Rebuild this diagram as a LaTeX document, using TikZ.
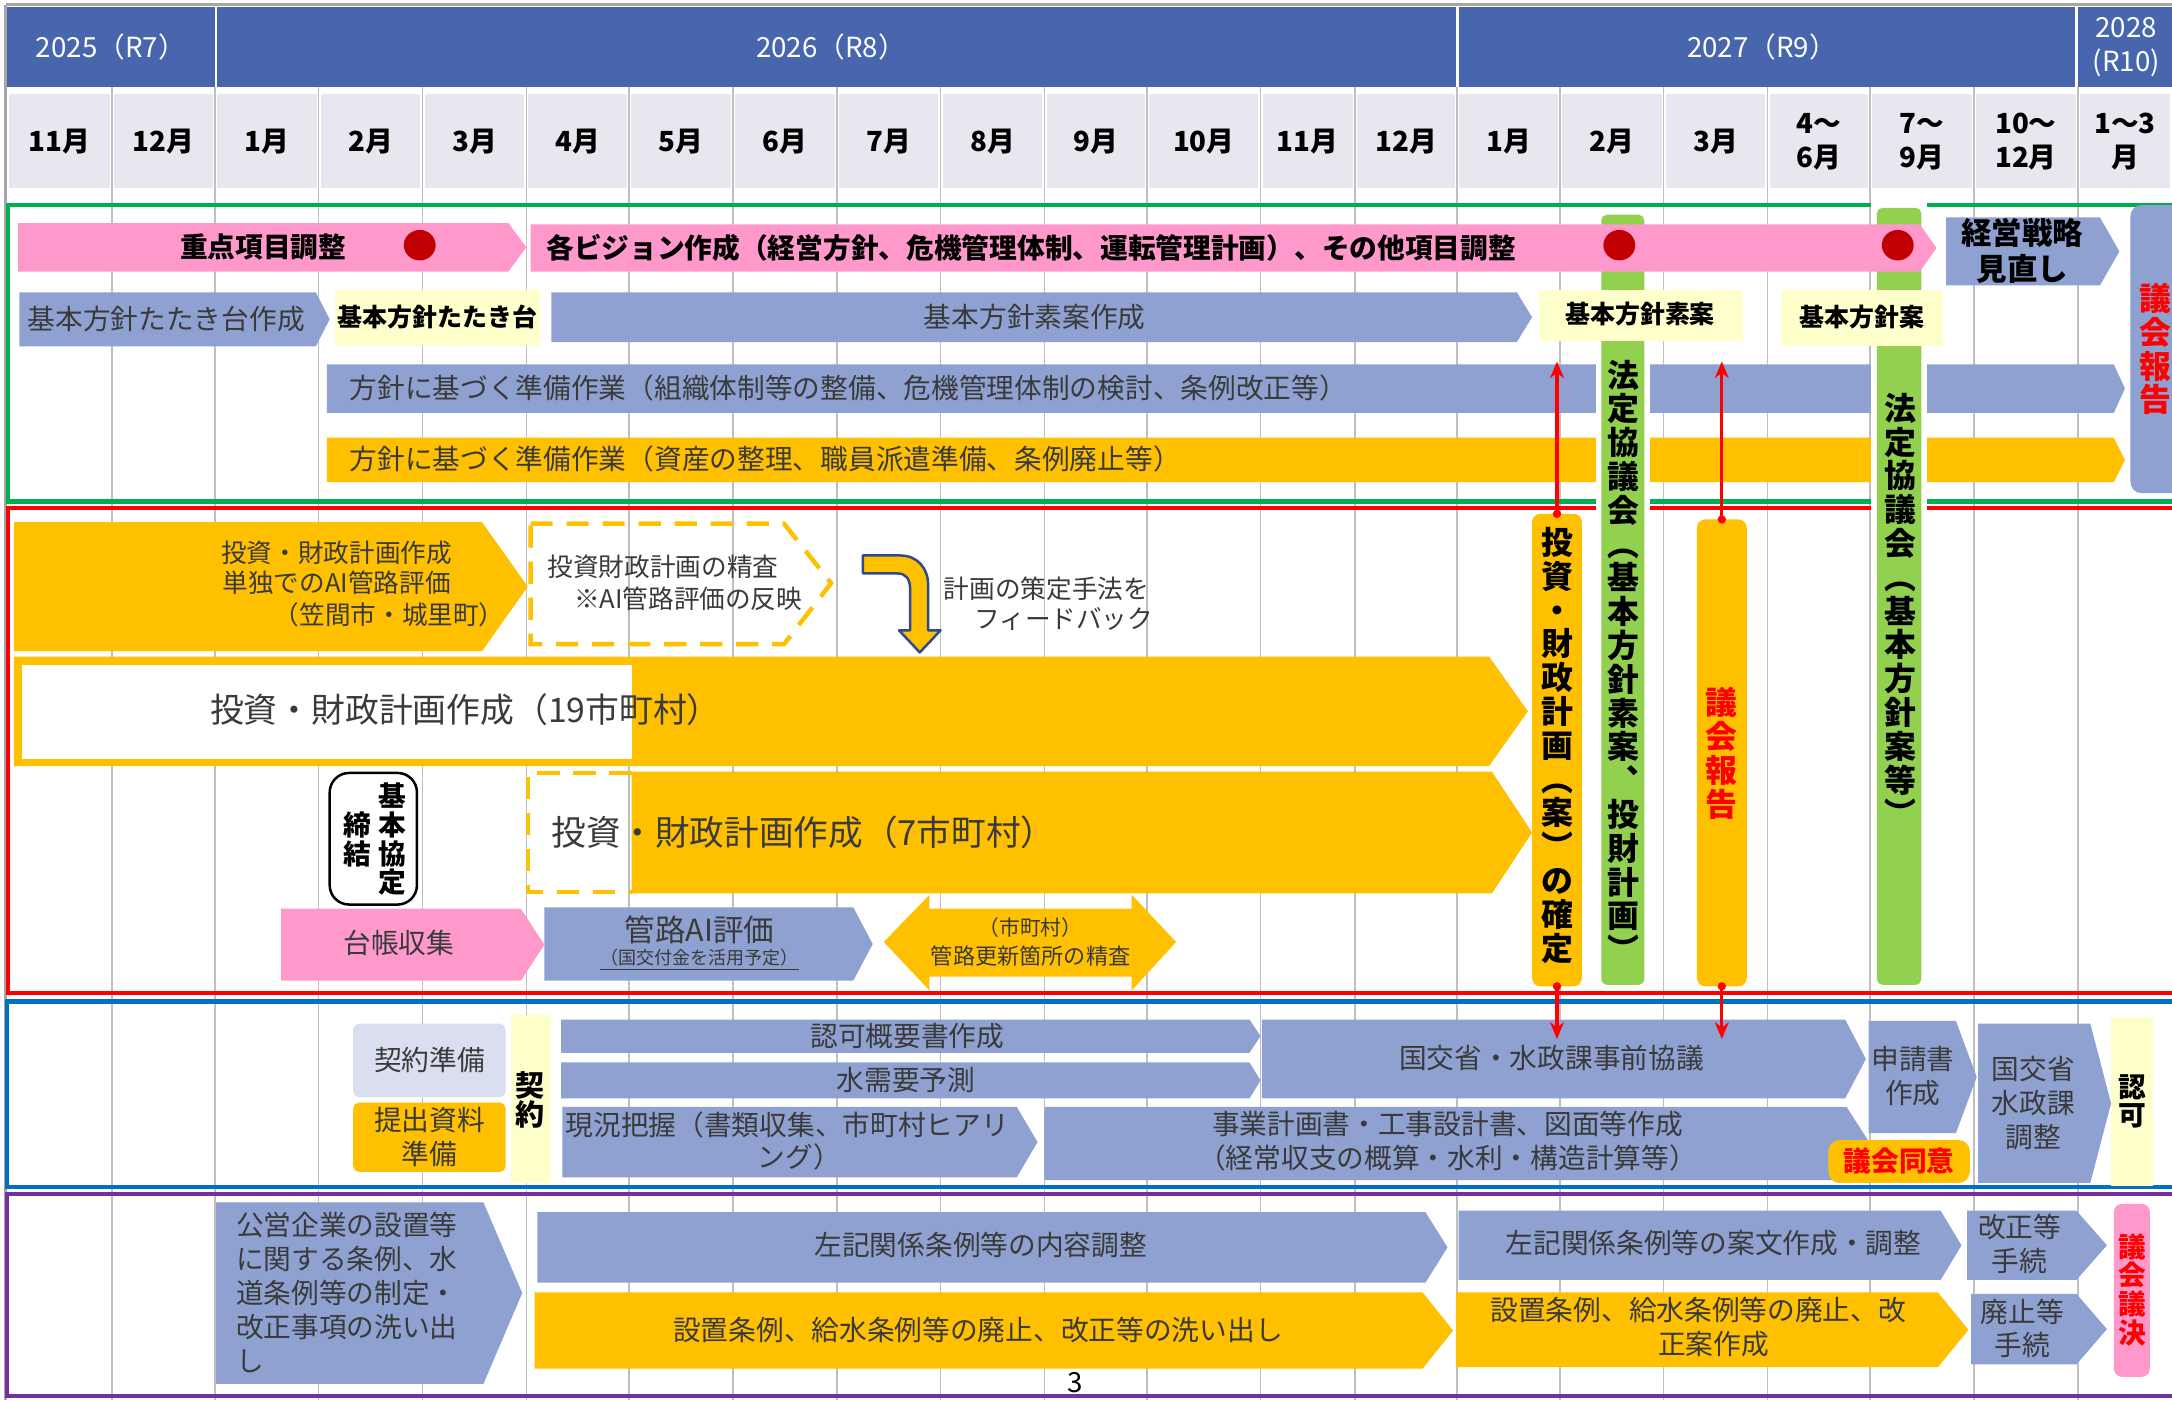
\documentclass[tikz,border=0pt]{standalone}
\usepackage{fontspec}
\setmainfont{Noto Sans CJK JP}
\usetikzlibrary{arrows.meta}
\definecolor{hdr}{HTML}{4866AE}
\definecolor{mon}{HTML}{E7E8EF}
\definecolor{bl}{HTML}{8EA1D0}
\definecolor{pk}{HTML}{FF99CC}
\definecolor{og}{HTML}{FFC000}
\definecolor{ly}{HTML}{FFFFCC}
\definecolor{gr}{HTML}{92D050}
\definecolor{dred}{HTML}{C00000}
\definecolor{lav}{HTML}{D9DEF0}
\definecolor{gridc}{HTML}{BFBFBF}
\definecolor{sgreen}{HTML}{00B050}
\definecolor{sblue}{HTML}{0070C0}
\definecolor{spurple}{HTML}{7030A0}
\definecolor{txt}{HTML}{3A3A3A}
\definecolor{navy}{HTML}{2F4B8C}
\newcommand{\harr}[6]{\fill[#1] (#2,#3) -- (#4,#3) -- (#5,{(#3+#6)/2}) -- (#4,#6) -- (#2,#6) -- cycle;}
\begin{document}
\begin{tikzpicture}[x=0.5pt,y=-0.5pt,
  lbl/.style={inner sep=0,text=txt,font=\fontsize{10}{12.25}\selectfont,align=center},
  lblb/.style={inner sep=0,text=black,font=\bfseries\fontsize{10}{12.25}\selectfont,align=center},
  vtx/.style={inner sep=0,align=center,font=\bfseries\fontsize{11.5}{12.2}\selectfont},
  secbox/.style={line width=1.5pt},
  redarr/.style={draw=red,line width=1.1pt,-{Stealth[length=6pt,width=5pt]}},
]
\useasboundingbox (0,0) rectangle (1568,1011);
\clip (0,0) rectangle (1568,1011);
\fill[white] (0,0) rectangle (1568,1011);
% outer border
\draw[gray!70,line width=1pt] (4,3.5) -- (1568,3.5);
\draw[gray!70,line width=1pt] (4,3.5) -- (4,1011);
% grid
\foreach \x in {81,155,230,305,380,454,529,604,679,754,828,910,978,1052,1126,1201,1276,1350,1425,1500}
  \draw[gridc,line width=0.6pt] (\x,63) -- (\x,1011);
% year header
\fill[hdr] (5,5) rectangle (155,63);
\fill[hdr] (157,5) rectangle (1051,63);
\fill[hdr] (1053,5) rectangle (1498,63);
\fill[hdr] (1500,5) rectangle (1568,63);
\node[lbl,text=white] (y25) at (80,34) {2025（R7）};
\node[lbl,text=white] (y26) at (600,34) {2026（R8）};
\node[lbl,text=white] (y27) at (1272,34) {2027（R9）};
\node[lbl,text=white,font=\fontsize{10}{12}\selectfont] (y28) at (1535,34) {2028\\(R10)};
% months
\foreach \xa/\xb/\lab [count=\i] in {5/81/11月,81/155/12月,155/230/1月,230/305/2月,305/380/3月,380/454/4月,454/529/5月,529/604/6月,604/679/7月,679/754/8月,754/828/9月,828/910/10月,910/978/11月,978/1052/12月,1052/1126/1月,1126/1201/2月,1201/1276/3月,1276/1350/{4～\\6月},1350/1425/{7～\\9月},1425/1500/{10～\\12月},1500/1568/{1～3\\月}}{
  \fill[mon] (\xa+1.5,68) rectangle (\xb-1.5,136);
  \node[lblb] (m\i) at ({(\xa+\xb)/2},102) {\lab};
}
% section frames
\draw[sgreen,secbox] (6,148) rectangle (1580,362);
\draw[red,secbox] (5.5,367) rectangle (1580,717);
\draw[sblue,secbox] (5,723) rectangle (1580,857);
\draw[spurple,secbox] (5,862) rectangle (1580,1008);

% ===== green section =====
\harr{pk}{13}{161}{367}{380}{196}
\node[lblb] (juten) at (190,178) {重点項目調整};
\harr{bl}{14}{211}{228}{238}{250}
\node[lbl] (tataki) at (120,230) {基本方針たたき台作成};
\fill[ly] (242,209) rectangle (390,250);
\node[lblb,font=\bfseries\fontsize{9}{11}\selectfont] (tatakidai) at (316,229) {基本方針たたき台};
\harr{bl}{398}{211}{1095}{1106}{247}
\node[lbl] (soan) at (747,229) {基本方針素案作成};
\harr{bl}{236}{263}{1526}{1534}{298}
\node[lbl,anchor=west] (junbi1) at (252,280) {方針に基づく準備作業（組織体制等の整備、危機管理体制の検討、条例改正等）};
\harr{og}{236}{316}{1526}{1534}{348}
\node[lbl,anchor=west] (junbi2) at (252,331) {方針に基づく準備作業（資産の整理、職員派遣準備、条例廃止等）};
\harr{bl}{1405}{157}{1516}{1530}{206}
\node[lblb,font=\bfseries\fontsize{11}{13}\selectfont] (senryaku) at (1460,181) {経営戦略\\見直し};
\fill[bl,rounded corners=4pt] (1538,148) rectangle (1590,356);
\node[vtx,text=red] (gikai1) at (1556,252) {議\\会\\報\\告};

% green bars (with white halo), behind the pink arrow
\fill[white] (1152,151) rectangle (1191,713);
\fill[gr,rounded corners=2pt] (1156,155) rectangle (1187,711);
\fill[white] (1351,146) rectangle (1391,713);
\fill[gr,rounded corners=2pt] (1355,150) rectangle (1387,711);
\harr{pk}{383}{162}{1386}{1398}{196}
\node[lblb,anchor=west] (vision) at (394,179) {各ビジョン作成（経営方針、危機管理体制、運転管理計画）、その他項目調整};
\fill[dred] (303,177) ellipse [x radius=11.5,y radius=11];
\fill[dred] (1169,177) ellipse [x radius=11.5,y radius=11];
\fill[dred] (1370,177) ellipse [x radius=11.5,y radius=11];
\node[vtx] (hotei1) at (1172,477) {法\\定\\協\\議\\会\\︵\\基\\本\\方\\針\\素\\案\\︑\\投\\財\\計\\画\\︶};
\node[vtx] (hotei2) at (1372,440) {法\\定\\協\\議\\会\\︵\\基\\本\\方\\針\\案\\等\\︶};
\fill[ly] (1111,209) rectangle (1258,246);
\node[lblb,font=\bfseries\fontsize{9}{11}\selectfont] (soanbox) at (1184,227) {基本方針素案};
\fill[ly] (1286,209) rectangle (1403,250);
\node[lblb,font=\bfseries\fontsize{9}{11}\selectfont] (anbox) at (1344,229) {基本方針案};

% ===== red section =====
\harr{og}{10}{377}{348}{381}{470}
\node[lbl,font=\fontsize{9.25}{11.3}\selectfont] (tandoku1) at (243,399) {投資・財政計画作成};
\node[lbl,font=\fontsize{9.25}{11.3}\selectfont] (tandoku2) at (243,421) {単独でのAI管路評価};
\node[lbl,font=\fontsize{9.25}{11.3}\selectfont] (tandoku3) at (281,444) {（笠間市・城里町）};
\draw[og,line width=1.6pt,dash pattern=on 8pt off 5pt] (383,378) -- (566,378) -- (600,421) -- (566,465) -- (383,465) -- cycle;
\node[lbl,font=\fontsize{9.25}{11.3}\selectfont,anchor=west] (seisa1) at (395,409) {投資財政計画の精査};
\node[lbl,font=\fontsize{9.25}{11.3}\selectfont,anchor=west] (seisa2) at (414,432) {※AI管路評価の反映};
\draw[fill=og,draw=navy,line width=0.9pt,line join=round] (623,401) -- (650,401) .. controls (662,401) and (670,410) .. (670,422) -- (670,455) -- (679,455) -- (664,471) -- (649,455) -- (657,455) -- (657,425) .. controls (657,418) and (654,414) .. (648,414) -- (623,414) -- cycle;
\node[lbl,font=\fontsize{9.25}{11.3}\selectfont,anchor=west] (fb1) at (681,425) {計画の策定手法を};
\node[lbl,font=\fontsize{9.25}{11.3}\selectfont,anchor=west] (fb2) at (703,447) {フィードバック};
\harr{og}{10}{474}{1075}{1103}{553}
\fill[white] (16,480) rectangle (456,548);
\node[lbl,font=\fontsize{12.2}{14}\selectfont] (plan19) at (336,512) {投資・財政計画作成（19市町村）};
\harr{og}{456}{557}{1077}{1106}{645}
\draw[og,line width=1.6pt,dash pattern=on 8pt off 5pt] (456,558) -- (381,558) -- (381,644) -- (456,644);
\node[lbl,font=\fontsize{12.5}{14}\selectfont] (plan7) at (580,601) {投資・財政計画作成（7市町村）};
\draw[black,line width=0.9pt,rounded corners=7pt,fill=white] (238,558) rectangle (301,653);
\node[vtx,font=\bfseries\fontsize{10}{10.35}\selectfont] (kyotei1) at (283,606) {基\\本\\協\\定};
\node[vtx,font=\bfseries\fontsize{10}{10.35}\selectfont] (kyotei2) at (258,606) {締\\結};
\harr{pk}{203}{656}{376}{393}{708}
\node[lbl] (daicho) at (288,681) {台帳収集};
\harr{bl}{393}{655}{616}{630}{708}
\node[lbl,font=\fontsize{11}{13}\selectfont] (ai) at (505,671) {管路AI評価};
\node[lbl,font=\fontsize{6.5}{8}\selectfont] (kofu) at (505,693) {\underline{（国交付金を活用予定）}};
\fill[og] (638,680) -- (671,646) -- (671,656) -- (817,656) -- (817,646) -- (849,680) -- (817,715) -- (817,705) -- (671,705) -- (671,715) -- cycle;
\node[lbl,font=\fontsize{7.5}{9}\selectfont] (shicho) at (744,670) {（市町村）};
\node[lbl,font=\fontsize{8}{9}\selectfont] (koshin) at (744,690) {管路更新箇所の精査};
% orange vertical bars
\fill[og,rounded corners=3pt] (1106,371) rectangle (1142,712);
\node[vtx] (kettei) at (1124,538) {投\\資\\・\\財\\政\\計\\画\\︵\\案\\︶\\の\\確\\定};
\fill[og,rounded corners=3pt] (1225,375) rectangle (1261,712);
\node[vtx,text=red] (gikai2) at (1243,544) {議\\会\\報\\告};

% ===== blue section =====
\fill[lav,rounded corners=2pt] (255,739) rectangle (365,792);
\node[lbl] (keiyakuj) at (310,765) {契約準備};
\fill[og,rounded corners=2pt] (255,796) rectangle (365,846);
\node[lbl] (teishutsu) at (310,821) {提出資料\\準備};
\fill[ly] (369,733) rectangle (398,854);
\node[vtx,font=\bfseries\fontsize{10.5}{10.6}\selectfont] (keiyaku) at (383,794) {契\\約};
\harr{bl}{405}{736}{902}{910}{760}
\node[lbl] (gaiyo) at (655,748) {認可概要書作成};
\harr{bl}{405}{767}{902}{910}{793}
\node[lbl] (juyo) at (654,780) {水需要予測};
\harr{bl}{406}{799}{734}{749}{850}
\node[lbl,anchor=west] (genkyo1) at (408,812) {現況把握（書類収集、市町村ヒアリ};
\node[lbl] (genkyo2) at (577,835) {ング）};
\harr{bl}{911}{736}{1332}{1347}{793}
\node[lbl] (jizen) at (1120,764) {国交省・水政課事前協議};
\harr{bl}{754}{799}{1333}{1350}{852}
\node[lbl] (jigyo) at (1045,824) {事業計画書・工事設計書、図面等作成\\（経常収支の概算・水利・構造計算等）};
\harr{bl}{1349}{737}{1412}{1427}{818}
\node[lbl] (shinsei) at (1381,777) {申請書\\作成};
\fill[og,rounded corners=4pt] (1320,823) rectangle (1422,854);
\node[lblb,text=red] (doui) at (1371,838) {議会同意};
\harr{bl}{1428}{739}{1509}{1524}{854}
\node[lbl] (chosei) at (1468,796) {国交省\\水政課\\調整};
\fill[ly] (1524,734) rectangle (1554,856);
\node[vtx,font=\bfseries\fontsize{10}{10}\selectfont] (ninka) at (1539,795) {認\\可};

% ===== purple section =====
\harr{bl}{156}{868}{349}{377}{999}
\node[lbl,align=left,anchor=west] (koei) at (170,933) {公営企業の設置等\\に関する条例、水\\道条例等の制定・\\改正事項の洗い出\\し};
\harr{bl}{388}{875}{1029}{1045}{926}
\node[lbl] (naiyo) at (708,899) {左記関係条例等の内容調整};
\harr{og}{386}{933}{1027}{1049}{988}
\node[lbl] (araidashi) at (706,960) {設置条例、給水条例等の廃止、改正等の洗い出し};
\harr{bl}{1053}{874}{1401}{1416}{924}
\node[lbl] (anbun) at (1237,897) {左記関係条例等の案文作成・調整};
\harr{og}{1051}{933}{1399}{1421}{987}
\node[lbl] (kaisei1) at (1226,946) {設置条例、給水条例等の廃止、改};
\node[lbl] (kaisei2) at (1237,970) {正案作成};
\harr{bl}{1420}{874}{1499}{1521}{924}
\node[lbl] (kaiseite) at (1458,898) {改正等\\手続};
\harr{bl}{1423}{934}{1499}{1521}{985}
\node[lbl] (haishite) at (1460,959) {廃止等\\手続};
\fill[pk,rounded corners=3pt] (1526,869) rectangle (1552,994);
\node[vtx,text=red,font=\bfseries\fontsize{10}{10.35}\selectfont] (giketsu) at (1539,931) {議\\会\\議\\決};
\node[inner sep=0,font=\fontsize{10}{12}\selectfont] (page) at (776,998) {3};

% ===== red connectors =====
\coordinate (kTop) at (1124,371);
\coordinate (kBot) at (1124,712);
\coordinate (kUp) at (1124,261);
\coordinate (kDn) at (1124,750);
\coordinate (gTop) at (1243,375);
\coordinate (gBot) at (1243,712);
\coordinate (gUp) at (1243,261);
\coordinate (gDn) at (1243,750);
\draw[redarr] (kTop) -- (kUp);
\draw[redarr] (kBot) -- (kDn);
\draw[redarr] (gTop) -- (gUp);
\draw[redarr] (gBot) -- (gDn);
\foreach \c in {kTop,kBot,gTop,gBot} \fill[red] (\c) circle (3);
\end{tikzpicture}
\end{document}
